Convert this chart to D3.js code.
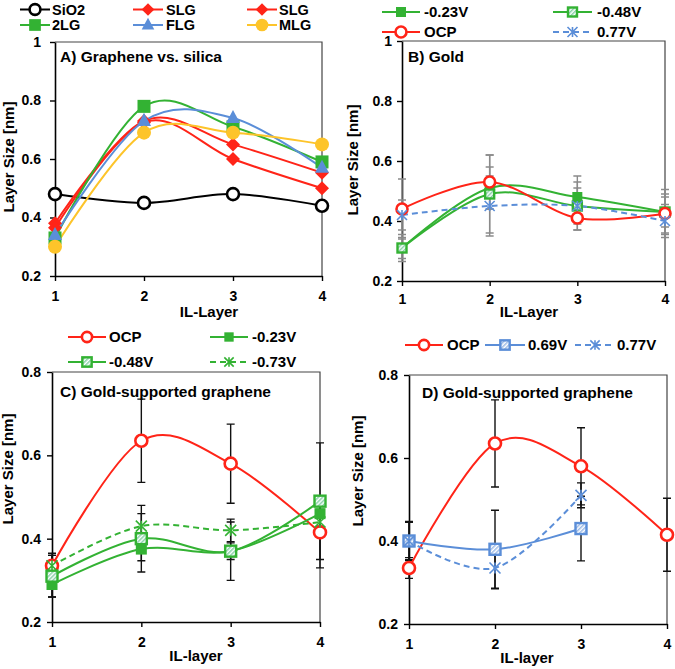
<!DOCTYPE html>
<html><head><meta charset="utf-8">
<script src="https://cdn.jsdelivr.net/npm/d3@7"></script>
<style>
body{margin:0;background:#fff}
svg{display:block}
text{font-family:"Liberation Sans",Arial,sans-serif;font-weight:bold;fill:#000}
</style>
</head><body>
<svg id="c" width="675" height="669"></svg>
<script>
// ---------- data ----------
const layers = [1, 2, 3, 4];
const yTicksAB = [0.2, 0.4, 0.6, 0.8, 1.0];
const yLabelsAB = ["0.2", "0.4", "0.6", "0.8", "1"];
const yTicksCD = [0.2, 0.4, 0.6, 0.8];
const yLabelsCD = ["0.2", "0.4", "0.6", "0.8"];

// Panel A: graphene vs silica
const aSiO2 = [0.48, 0.45, 0.48, 0.44];
const aSLG1 = [0.38, 0.73, 0.65, 0.553];
const aSLG2 = [0.365, 0.725, 0.60, 0.50];
const a2LG  = [0.33, 0.78, 0.71, 0.59];
const aFLG  = [0.34, 0.73, 0.74, 0.57];
const aMLG  = [0.30, 0.69, 0.69, 0.65];

// Panel B: gold
const bM023 = [0.31, 0.51, 0.48, 0.43];
const bM023Err = [0.035, 0.07, 0.07, 0.075];
const bM048 = [0.31, 0.49, 0.45, 0.43];
const bM048Err = [0.045, 0.13, 0.06, 0.05];
const bOCP = [0.44, 0.53, 0.41, 0.425];
const bOCPErr = [0.10, 0.09, 0.04, 0.065];
const bP077 = [0.42, 0.45, 0.45, 0.40];
const bP077Err = [0.05, 0.10, 0.08, 0.055];

// Panel C: gold-supported graphene (negative potentials)
const cOCP = [0.335, 0.635, 0.58, 0.415];
const cOCPErr = [0.025, 0.10, 0.095, 0.085];
const cM023 = [0.29, 0.375, 0.37, 0.46];
const cM023Err = [0.03, 0.028, 0.02, 0.03];
const cM048 = [0.31, 0.40, 0.37, 0.49];
const cM048Err = [0.05, 0.08, 0.07, 0.14];
const cM073 = [0.335, 0.43, 0.42, 0.44];
const cM073Err = [0.03, 0.03, 0.027, 0.03];

// Panel D: gold-supported graphene (positive potentials)
const dOCP = [0.335, 0.635, 0.58, 0.415];
const dOCPErr = [0.025, 0.105, 0.093, 0.088];
const dP069 = [0.40, 0.38, 0.43];
const dP069Err = [0.047, 0.094, 0.078];
const dP077 = [0.40, 0.335, 0.51];
const dP077Err = [0.045, 0.05, 0.03];

// ---------- styles ----------
const RED = "#ff2418", GREEN = "#33b233", BLUE = "#5b8ed8", YEL = "#fdc42a", BLK = "#000";

const svg = d3.select("#c");
const defs = svg.append("defs");
function hatch(id, col) {
  const p = defs.append("pattern").attr("id", id).attr("patternUnits", "userSpaceOnUse")
    .attr("width", 3).attr("height", 3).attr("patternTransform", "rotate(45)");
  p.append("rect").attr("width", 3).attr("height", 3).attr("fill", "#fff");
  p.append("rect").attr("width", 1.5).attr("height", 3).attr("fill", col);
}
hatch("hg", "#86cfa6");
hatch("hb", "#9bb9e6");

function marker(g, type, cx, cy, col, s) {
  switch (type) {
    case "circleOpen":
      g.append("circle").attr("cx", cx).attr("cy", cy).attr("r", s / 2)
        .attr("fill", "#fff").attr("stroke", col).attr("stroke-width", 2.6); break;
    case "circle":
      g.append("circle").attr("cx", cx).attr("cy", cy).attr("r", s / 2).attr("fill", col); break;
    case "square":
      g.append("rect").attr("x", cx - s / 2).attr("y", cy - s / 2).attr("width", s).attr("height", s).attr("fill", col); break;
    case "squareHatch":
      g.append("rect").attr("x", cx - s / 2).attr("y", cy - s / 2).attr("width", s).attr("height", s)
        .attr("fill", col === BLUE ? "url(#hb)" : "url(#hg)").attr("stroke", col).attr("stroke-width", 2.4); break;
    case "diamond":
      g.append("path").attr("d", `M${cx},${cy - s / 2}L${cx + s / 2},${cy}L${cx},${cy + s / 2}L${cx - s / 2},${cy}Z`).attr("fill", col); break;
    case "triangle":
      g.append("path").attr("d", `M${cx},${cy - s * 0.58}L${cx + s / 2},${cy + s * 0.36}L${cx - s / 2},${cy + s * 0.36}Z`).attr("fill", col); break;
    case "star": {
      const h = s / 2;
      g.append("path").attr("d", `M${cx - h},${cy - h}L${cx + h},${cy + h}M${cx - h},${cy + h}L${cx + h},${cy - h}M${cx},${cy - h}L${cx},${cy + h}`)
        .attr("stroke", col).attr("stroke-width", 1.6).attr("fill", "none"); break;
    }
  }
}

const panels = [
  {
    title: "A) Graphene vs. silica", titleX: 60, titleY: 62,
    x0: 55, x1: 322, yb: 276, yt: 42, dom: [0.2, 1], ticks: yTicksAB, labels: yLabelsAB,
    yPad: 9, xPad: 10, xlabel: "IL-Layer", xlabelX: 209, xlabelY: 317, ylabelX: 14, ylabelY: 157,
    errColor: null,
    series: [
      { name: "SiO2", v: aSiO2, c: BLK, m: "circleOpen", s: 12 },
      { name: "SLG", v: aSLG1, c: RED, m: "diamond", s: 14 },
      { name: "SLG", v: aSLG2, c: RED, m: "diamond", s: 14 },
      { name: "2LG", v: a2LG, c: GREEN, m: "square", s: 13 },
      { name: "FLG", v: aFLG, c: BLUE, m: "triangle", s: 14 },
      { name: "MLG", v: aMLG, c: YEL, m: "circle", s: 14 }
    ],
    legend: { rows: [9.5, 25], cols: [[20, 50, 52], [133, 163, 166], [247, 277, 279]], order: [[0, 1, 2], [3, 4, 5]], ms: 0.9, fs: 14.5 }
  },
  {
    title: "B) Gold", titleX: 408, titleY: 62,
    x0: 402, x1: 665, yb: 281, yt: 41, dom: [0.2, 1], ticks: yTicksAB, labels: yLabelsAB,
    yPad: 5, xPad: 8, xlabel: "IL-Layer", xlabelX: 529, xlabelY: 317, ylabelX: 358, ylabelY: 160,
    errColor: "#8a8a8a",
    series: [
      { name: "-0.23V", v: bM023, e: bM023Err, c: GREEN, m: "square", s: 10 },
      { name: "-0.48V", v: bM048, e: bM048Err, c: GREEN, m: "squareHatch", s: 9 },
      { name: "OCP", v: bOCP, e: bOCPErr, c: RED, m: "circleOpen", s: 11 },
      { name: "0.77V", v: bP077, e: bP077Err, c: BLUE, m: "star", s: 10, dash: "6,4" }
    ],
    legend: { rows: [12, 32], cols: [[382, 420, 424], [553, 592, 597]], order: [[0, 1], [2, 3]], ms: 1, fs: 15 }
  },
  {
    title: "C) Gold-supported graphene", titleX: 60, titleY: 397,
    x0: 52, x1: 320, yb: 622, yt: 372, dom: [0.2, 0.8], ticks: yTicksCD, labels: yLabelsCD,
    yPad: 6, xPad: 10, xlabel: "IL-layer", xlabelX: 196, xlabelY: 661, ylabelX: 13, ylabelY: 469,
    errColor: "#111",
    series: [
      { name: "OCP", v: cOCP, e: cOCPErr, c: RED, m: "circleOpen", s: 12 },
      { name: "-0.23V", v: cM023, e: cM023Err, c: GREEN, m: "square", s: 11 },
      { name: "-0.48V", v: cM048, e: cM048Err, c: GREEN, m: "squareHatch", s: 11 },
      { name: "-0.73V", v: cM073, e: cM073Err, c: GREEN, m: "star", s: 11, dash: "6,4" }
    ],
    legend: { rows: [337, 362], cols: [[68, 106, 109], [210, 248, 252]], order: [[0, 1], [2, 3]], ms: 0.85, fs: 15 }
  },
  {
    title: "D) Gold-supported graphene", titleX: 422, titleY: 398,
    x0: 409, x1: 667, yb: 624, yt: 375, dom: [0.2, 0.8], ticks: yTicksCD, labels: yLabelsCD,
    yPad: 6, xPad: 10, xlabel: "IL-layer", xlabelX: 527, xlabelY: 663, ylabelX: 363, ylabelY: 471,
    errColor: "#111",
    series: [
      { name: "OCP", v: dOCP, e: dOCPErr, c: RED, m: "circleOpen", s: 12 },
      { name: "0.69V", v: dP069, e: dP069Err, c: BLUE, m: "squareHatch", s: 11 },
      { name: "0.77V", v: dP077, e: dP077Err, c: BLUE, m: "star", s: 11, dash: "6,4" }
    ],
    legend: { rows: [345], cols: [[405, 443, 447], [485, 525, 528], [575, 615, 617]], order: [[0, 1, 2]], ms: 0.85, fs: 15 }
  }
];

panels.forEach(P => {
  const g = svg.append("g");
  const xs = d3.scaleLinear().domain([1, 4]).range([P.x0, P.x1]);
  const ys = d3.scaleLinear().domain(P.dom).range([P.yb, P.yt]);

  // frame (top/right)
  g.append("path").attr("d", `M${P.x0},${P.yt}H${P.x1}V${P.yb}`)
    .attr("fill", "none").attr("stroke", "#444").attr("stroke-width", 1.2);

  // axes
  const ya = g.append("g").attr("transform", `translate(${P.x0},0)`)
    .call(d3.axisLeft(ys).tickValues(P.ticks).tickFormat((d, i) => P.labels[i]).tickSize(5).tickSizeOuter(0).tickPadding(P.yPad));
  const xa = g.append("g").attr("transform", `translate(0,${P.yb})`)
    .call(d3.axisBottom(xs).tickValues(layers).tickFormat(d3.format("d")).tickSize(5).tickSizeOuter(0).tickPadding(P.xPad));
  [ya, xa].forEach(a => {
    a.attr("font-family", null).attr("font-size", null);
    a.select(".domain").attr("stroke", "#000").attr("stroke-width", 1.6);
    a.selectAll(".tick line").attr("stroke", "#000").attr("stroke-width", 1.4);
    a.selectAll(".tick text").style("font-size", "14px").attr("fill", "#000");
  });

  // error bars
  P.series.forEach(S => {
    if (!S.e) return;
    S.v.forEach((v, i) => {
      const x = xs(layers[i]), yT = ys(v + S.e[i]), yB = ys(v - S.e[i]);
      g.append("path").attr("d", `M${x},${yT}V${yB}M${x - 4},${yT}H${x + 4}M${x - 4},${yB}H${x + 4}`)
        .attr("stroke", P.errColor).attr("stroke-width", 1.4).attr("fill", "none");
    });
  });

  // lines
  const line = d3.line().x((d, i) => xs(layers[i])).y(d => ys(d)).curve(d3.curveCardinal.tension(0));
  P.series.forEach(S => {
    g.append("path").attr("d", line(S.v)).attr("fill", "none").attr("stroke", S.c)
      .attr("stroke-width", 2).attr("stroke-dasharray", S.dash || null);
  });
  // markers
  P.series.forEach(S => {
    S.v.forEach((v, i) => marker(g, S.m, xs(layers[i]), ys(v), S.c, S.s));
  });

  // title and labels
  g.append("text").attr("x", P.titleX).attr("y", P.titleY).style("font-size", "15.5px").text(P.title);
  g.append("text").attr("x", P.xlabelX).attr("y", P.xlabelY).attr("text-anchor", "middle").style("font-size", "15px").text(P.xlabel);
  g.append("text").attr("transform", `translate(${P.ylabelX},${P.ylabelY}) rotate(-90)`).attr("text-anchor", "middle")
    .style("font-size", "15px").text("Layer Size [nm]");

  // legend
  const L = P.legend;
  L.order.forEach((row, r) => {
    row.forEach((si, c) => {
      const S = P.series[si], col = L.cols[c], y = L.rows[r];
      g.append("line").attr("x1", col[0]).attr("x2", col[1]).attr("y1", y).attr("y2", y)
        .attr("stroke", S.c).attr("stroke-width", 2).attr("stroke-dasharray", S.dash || null);
      marker(g, S.m, (col[0] + col[1]) / 2, y, S.c, S.s * L.ms);
      g.append("text").attr("x", col[2]).attr("y", y + 5.3).style("font-size", L.fs + "px").text(S.name);
    });
  });
});
</script>
</body></html>
